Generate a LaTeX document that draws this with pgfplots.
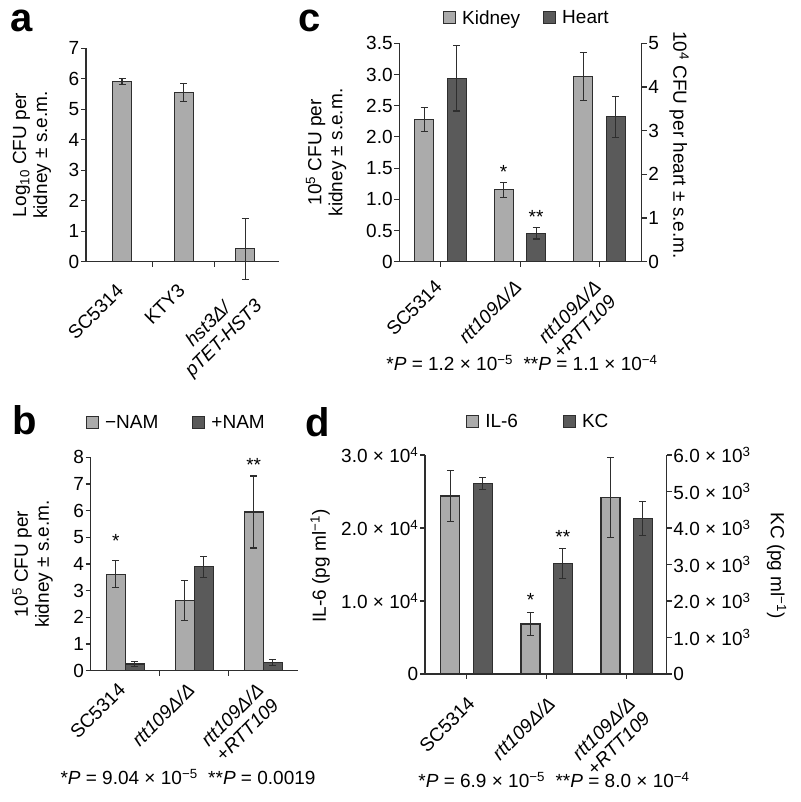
\documentclass[border=0pt]{standalone}
\usepackage{pgfplots}
\pgfplotsset{compat=1.18}
\usepackage{fontspec}
\setmainfont{Liberation Sans}

\definecolor{lightbar}{HTML}{ABABAB}
\definecolor{darkbar}{HTML}{5A5A5A}
\definecolor{edge}{HTML}{2E2E2E}

\newcommand{\fs}{\fontsize{19}{21}\selectfont}
\newcommand{\up}[1]{\textsuperscript{#1}}

\pgfplotsset{
  panel/.style={
    scale only axis, clip=false,
    axis x line*=bottom, axis y line*=left,
    axis line style={edge, line width=1.1pt},
    tick style={edge, line width=1.1pt},
    tick align=outside, major tick length=5pt,
    ymin=0, scaled y ticks=false,
    tick label style={font=\fs},
    label style={font=\fs},
    yticklabel style={inner sep=1.5pt, /pgf/number format/assume math mode=true},
    xticklabel style={rotate=45, anchor=north east, align=center},
    legend style={font=\fs, draw=none, fill=none, legend columns=2, inner sep=0pt,
      /tikz/every odd column/.append style={column sep=4pt}},
  },
  lbar/.style={ybar, bar width=19pt, fill=lightbar, draw=edge, line width=1.1pt},
  dbar/.style={ybar, bar width=19pt, fill=darkbar, draw=edge, line width=1.1pt},
  eb/.style={error bars/.cd, y dir=both, y explicit,
    error bar style={edge, line width=1.1pt, xshift=#1},
    error mark options={rotate=90, mark size=3.5pt, edge, line width=1.1pt}},
  eb/.default=0pt,
  lleg/.style={legend image code/.code={\draw[fill=lightbar, draw=edge, line width=1pt] (0pt,-6pt) rectangle (12pt,6pt);}},
  dleg/.style={legend image code/.code={\draw[fill=darkbar, draw=edge, line width=1pt] (0pt,-6pt) rectangle (12pt,6pt);}},
}

\begin{document}
\begin{tikzpicture}
\useasboundingbox (0,0) rectangle (800pt,802pt);

% panel letters
\node[anchor=base west, inner sep=0pt] at (10pt,770pt) {\fontsize{40}{40}\selectfont\bfseries a};
\node[anchor=base west, inner sep=0pt] at (298pt,770pt) {\fontsize{40}{40}\selectfont\bfseries c};
\node[anchor=base west, inner sep=0pt] at (12pt,367pt) {\fontsize{40}{40}\selectfont\bfseries b};
\node[anchor=base west, inner sep=0pt] at (305pt,365pt) {\fontsize{40}{40}\selectfont\bfseries d};

% ---- a
\begin{axis}[panel, at={(86pt,540.3pt)}, anchor=south west,
  width=193.1pt, height=213.4pt,
  xmin=-0.585, xmax=2.55, ymax=7, ytick={0,1,2,3,4,5,6,7},
  xtick={0.5,1.5}, xticklabels={},
  extra x ticks={0,1,2},
  extra x tick labels={SC5314, KTY3, {\textit{hst3Δ/}\\\textit{pTET-HST3}}},
  extra x tick style={major tick length=0pt},
  xticklabel style={inner xsep=19.7pt, inner ysep=9.9pt},
  ylabel={Log\textsubscript{10} CFU per\\kidney ± s.e.m.},
  ylabel style={align=center, at={(axis description cs:-0.28,0.5)}, anchor=center}]
\addplot[lbar, bar shift=0pt, eb] coordinates {(0,5.9) +- (0,0.1) (1,5.55) +- (0,0.3) (2,0.42) +- (0,1.0)};
\end{axis}

% ---- c (kidney, left axis)
\begin{axis}[panel, at={(399.3pt,540.3pt)}, anchor=south west,
  width=242.4pt, height=218.4pt,
  xmin=-0.52, xmax=2.53, ymax=3.5,
  ytick={0,0.5,1,1.5,2,2.5,3,3.5}, yticklabels={0,0.5,1.0,1.5,2.0,2.5,3.0,3.5},
  xtick={0,1,2},
  xticklabels={SC5314, \textit{rtt109Δ/Δ}, {\textit{rtt109Δ/Δ}\\+\textit{RTT109}}},
  xticklabel style={inner xsep=13.4pt, inner ysep=3.5pt},
  ylabel={10\up{5} CFU per\\kidney ± s.e.m.},
  ylabel style={align=center, at={(axis description cs:-0.302,0.5)}, anchor=center}]
\addplot[lbar, bar shift=-16.5pt, eb=-16.5pt] coordinates {(0,2.28) +- (0,0.19) (1,1.15) +- (0,0.12) (2,2.97) +- (0,0.38)};
\node[font=\fs, anchor=base] at ([xshift=-16.5pt, yshift=-10pt]axis cs:1,1.5) {*};
\end{axis}
% ---- c (heart, right axis)
\begin{axis}[panel, at={(399.3pt,540.3pt)}, anchor=south west,
  width=242.4pt, height=218.4pt,
  xmin=-0.52, xmax=2.53, ymax=5,
  axis y line*=right, axis x line=none,
  ytick={0,1,2,3,4,5},
  ylabel={10\up{4} CFU per heart ± s.e.m.},
  ylabel style={rotate=180, at={(axis description cs:1.154,0.534)}, anchor=center},
  legend style={at={(axis description cs:0.18,1.116)}, anchor=west,
    /tikz/every even column/.append style={column sep=21pt}}]
\addlegendimage{lleg}\addlegendentry{Kidney}
\addlegendimage{dleg}\addlegendentry{Heart}
\addplot[dbar, bar shift=16pt, forget plot, eb=16pt] coordinates {(0,4.2) +- (0,0.75) (1,0.65) +- (0,0.13) (2,3.32) +- (0,0.47)};
\node[font=\fs, anchor=base] at ([xshift=16pt, yshift=-10pt]axis cs:1,1.11) {**};
\end{axis}
\node[font=\fs] at (522pt,439pt) {*\textit{P} = 1.2 × 10\up{−5} \ **\textit{P} = 1.1 × 10\up{−4}};

% ---- b
\begin{axis}[panel, at={(90.7pt,131.3pt)}, anchor=south west,
  width=207pt, height=213.4pt,
  xmin=-0.5, xmax=2.5, ymax=8, ytick={0,1,2,3,4,5,6,7,8},
  xtick={0.5,1.5}, xticklabels={},
  extra x ticks={0,1,2},
  extra x tick labels={SC5314, \textit{rtt109Δ/Δ}, {\textit{rtt109Δ/Δ}\\+\textit{RTT109}}},
  extra x tick style={major tick length=0pt},
  xticklabel style={inner xsep=13.4pt, inner ysep=2.1pt},
  ylabel={10\up{5} CFU per\\kidney ± s.e.m.},
  ylabel style={align=center, at={(axis description cs:-0.281,0.5)}, anchor=center},
  legend style={at={(axis description cs:-0.023,1.161)}, anchor=west,
    /tikz/every even column/.append style={column sep=32pt}}]
\addlegendimage{lleg}\addlegendentry{−NAM}
\addlegendimage{dleg}\addlegendentry{+NAM}
\addplot[lbar, bar shift=-9.5pt, forget plot, eb=-9.5pt] coordinates {(0,3.62) +- (0,0.5) (1,2.62) +- (0,0.75) (2,5.95) +- (0,1.35)};
\addplot[dbar, bar shift=9.5pt, forget plot, eb=9.5pt] coordinates {(0,0.25) +- (0,0.08) (1,3.9) +- (0,0.39) (2,0.3) +- (0,0.12)};
\node[font=\fs, anchor=base] at ([xshift=-9.5pt, yshift=-10pt]axis cs:0,5.0) {*};
\node[font=\fs, anchor=base] at ([xshift=-9.5pt, yshift=-10pt]axis cs:2,7.84) {**};
\end{axis}
\node[font=\fs] at (188pt,25pt) {*\textit{P} = 9.04 × 10\up{−5} \ **\textit{P} = 0.0019};

% ---- d (IL-6, left axis)
\begin{axis}[panel, at={(425pt,128pt)}, anchor=south west,
  width=241.7pt, height=219pt,
  xmin=-0.52, xmax=2.5, ymax=30000,
  ytick={0,10000,20000,30000},
  yticklabels={0, 1.0 × 10\up{4}, 2.0 × 10\up{4}, 3.0 × 10\up{4}},
  xtick={0,1,2},
  xticklabels={SC5314, \textit{rtt109Δ/Δ}, {\textit{rtt109Δ/Δ}\\+\textit{RTT109}}},
  xticklabel style={inner xsep=11.4pt, inner ysep=11.3pt},
  ylabel={IL-6 (pg ml\up{−1})},
  ylabel style={at={(axis description cs:-0.434,0.493)}, anchor=center}]
\addplot[lbar, bar shift=-16.2pt, eb=-16.2pt] coordinates {(0,24380) +- (0,3500) (1,6850) +- (0,1600) (2,24200) +- (0,5500)};
\node[font=\fs, anchor=base] at ([xshift=-16.2pt, yshift=-10pt]axis cs:1,10600) {*};
\end{axis}
% ---- d (KC, right axis)
\begin{axis}[panel, at={(425pt,128pt)}, anchor=south west,
  width=241.7pt, height=219pt,
  xmin=-0.52, xmax=2.5, ymax=6000,
  axis y line*=right, axis x line=none,
  ytick={0,1000,2000,3000,4000,5000,6000},
  yticklabels={0, 1.0 × 10\up{3}, 2.0 × 10\up{3}, 3.0 × 10\up{3}, 4.0 × 10\up{3}, 5.0 × 10\up{3}, 6.0 × 10\up{3}},
  ylabel={KC (pg ml\up{−1})},
  ylabel style={rotate=180, at={(axis description cs:1.455,0.495)}, anchor=center},
  legend style={at={(axis description cs:0.17,1.151)}, anchor=west,
    /tikz/every even column/.append style={column sep=43pt}}]
\addlegendimage{lleg}\addlegendentry{IL-6}
\addlegendimage{dleg}\addlegendentry{KC}
\addplot[dbar, bar shift=16.2pt, forget plot, eb=16.2pt] coordinates {(0,5224) +- (0,165) (1,3032) +- (0,410) (2,4265) +- (0,460)};
\node[font=\fs, anchor=base] at ([xshift=16.2pt, yshift=-10pt]axis cs:1,3860) {**};
\end{axis}
\node[font=\fs] at (554pt,22pt) {*\textit{P} = 6.9 × 10\up{−5} \ **\textit{P} = 8.0 × 10\up{−4}};

\end{tikzpicture}
\end{document}
